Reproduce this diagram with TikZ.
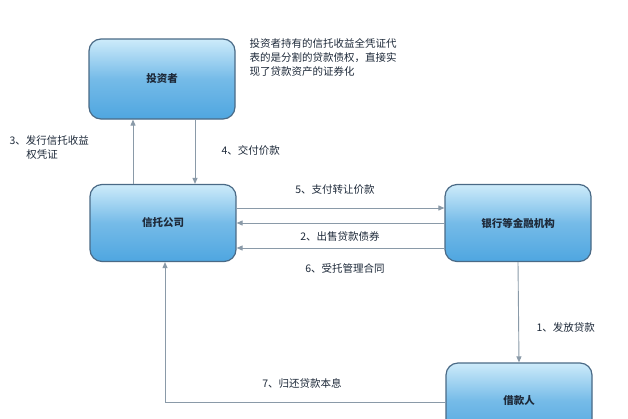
\documentclass[tikz,border=0pt]{standalone}
\usepackage{fontspec}
\setmainfont{Noto Sans CJK SC}
\usetikzlibrary{arrows.meta}
\definecolor{topc}{HTML}{CDEBFA}
\definecolor{botc}{HTML}{4FA6E0}
\definecolor{edge}{HTML}{4A6A86}
\definecolor{txt}{HTML}{1E2A3A}
\definecolor{ln}{HTML}{8A9AA8}
\begin{document}
\begin{tikzpicture}[x=1pt,y=-1pt,
 box/.style={draw=edge,line width=1.2pt,rounded corners=12pt,minimum width=146pt,minimum height=80pt,top color=topc,bottom color=botc,middle color=botc!70!topc,font=\fontsize{10.5}{12}\selectfont\bfseries,text=txt},
 con/.style={draw=ln,line width=0.9pt,-{Triangle[length=6pt,width=5pt]}},
 lab/.style={font=\fontsize{10.5}{14}\selectfont,text=txt,align=left}]
\useasboundingbox (0,0) rectangle (628,418);
\fill[white] (0,0) rectangle (628,418);
\node[box] (inv) at (162,79) {投资者};
\node[box,minimum height=77pt] (trust) at (163,223) {信托公司};
\node[box,minimum height=77pt] (bank) at (518,223) {银行等金融机构};
\begin{scope}
\clip (0,0) rectangle (628,418);
\node[box,minimum height=76pt] (borr) at (519,401) {借款人};
\end{scope}
\draw[con] (trust.north -| 133,0) -- (inv.south -| 133,0);
\draw[con] (inv.south -| 195,0) -- (trust.north -| 195,0);
\draw[con] (trust.east |- 0,208) -- (bank.west |- 0,208);
\draw[con] (bank.west |- 0,223) -- (trust.east |- 0,223);
\draw[con] (bank.west |- 0,248) -- (trust.east |- 0,248);
\draw[con] (bank.south) -- (borr.north);
\coordinate (c7) at (165,402);
\draw[con] (borr.west |- c7) -- (c7) -- (trust.south -| c7);
\node[lab,anchor=west] (l3) at (6,148) {3、发行信托收益\\\hspace*{1.6em}权凭证};
\node[lab,anchor=west] (l4) at (218,150) {4、交付价款};
\node[lab] (l5) at (335,190) {5、支付转让价款};
\node[lab] (l2) at (340,237) {2、出售贷款债券};
\node[lab] (l6) at (345,268) {6、受托管理合同};
\node[lab,anchor=west] (l1) at (533,327) {1、发放贷款};
\node[lab] (l7) at (302,383) {7、归还贷款本息};
\node[lab,anchor=west] (note) at (246,57) {投资者持有的信托收益全凭证代\\表的是分割的贷款债权，直接实\\现了贷款资产的证券化};
\end{tikzpicture}
\end{document}
